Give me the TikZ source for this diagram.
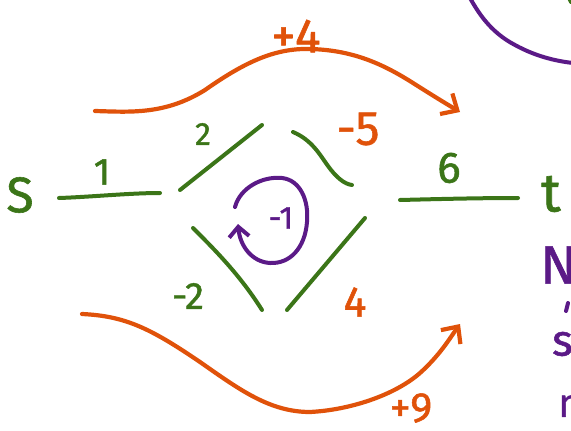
\documentclass[tikz,border=0pt]{standalone}
\usepackage{fontspec}
\setmainfont{Fira Sans}[FakeBold=1.2]
\usetikzlibrary{arrows.meta}
\definecolor{grn}{HTML}{3B7518}
\definecolor{org}{HTML}{E0520A}
\definecolor{prp}{HTML}{5B1A87}
\begin{document}
\begin{tikzpicture}[x=1pt,y=-1pt,line cap=round,line join=round,
  gline/.style={draw=grn,line width=4pt},
  oline/.style={draw=org,line width=4.2pt},
  pline/.style={draw=prp,line width=4pt},
  barb/.style={-{Straight Barb[length=13pt,width=24pt,line width=4.2pt]}},
  pbarb/.style={-{Straight Barb[length=10pt,width=20pt,line width=4pt]}},
  lab/.style={inner sep=0pt,anchor=center},
  glab/.style={lab,text=grn},
  olab/.style={lab,text=org},
  plab/.style={lab,text=prp},
  fs/.style={font=\fontsize{#1}{#1}\selectfont}]
\useasboundingbox (0,0) rectangle (571,431);

% labels
\node[glab,fs=50] (s) at (20,195) {S};
\node[glab,fs=54] (t) at (551,194) {t};
\node[glab,fs=38] (l1) at (102,172) {1};
\node[glab,fs=32] (l2) at (203,134) {2};
\node[olab,fs=48] (l5) at (358,129) {-5};
\node[glab,fs=38] (lm2) at (188,296) {-2};
\node[olab,fs=43] (l4) at (355,302) {4};
\node[glab,fs=44] (l6) at (449,168) {6};
\node[olab,fs=48] (lp4) at (296,36) {+4};
\node[olab,fs=42] (lp9) at (411,408) {+9};
\node[plab,fs=32] (lm1) at (281,218) {-1};
\node[plab,fs=54,anchor=west] (nn) at (540,265) {N};
\node[plab,fs=44,anchor=west] (ns) at (552,344) {s};
\node[plab,fs=40,anchor=west] (nm) at (558,406) {n};

% coordinates
\coordinate (e1a) at (59,198);  \coordinate (e1b) at (160,193);
\coordinate (e2a) at (180,190); \coordinate (e2b) at (262,125);
\coordinate (e5a) at (293,132); \coordinate (e5b) at (352,185);
\coordinate (em2a) at (193,228); \coordinate (em2b) at (262,310);
\coordinate (e4a) at (287,310); \coordinate (e4b) at (365,218);
\coordinate (e6a) at (400,200); \coordinate (e6b) at (518,198);

% green edges
\draw[gline] (e1a) .. controls (90,197) and (130,193) .. (e1b);
\draw[gline] (e2a) -- (e2b);
\draw[gline] (e5a) .. controls (312,140) and (320,155) .. (328,166) .. controls (336,177) and (344,184) .. (e5b);
\draw[gline] (em2a) .. controls (215,250) and (240,275) .. (em2b);
\draw[gline] (e4a) -- (e4b);
\draw[gline] (e6a) .. controls (440,199) and (480,198) .. (e6b);
\draw[gline] (569,-2) -- (571,2);

% orange curves
\coordinate (p4a) at (95,111); \coordinate (p4b) at (460,112);
\draw[oline,barb] (p4a) .. controls (130,112) and (165,115) .. (205,90)
  .. controls (245,62) and (275,48) .. (310,49)
  .. controls (350,50) and (380,62) .. (413,83)
  .. controls (435,97) and (450,106) .. (p4b);
\coordinate (p9a) at (82,314); \coordinate (p9b) at (460,324);
\draw[oline,barb] (p9a) .. controls (125,316) and (150,328) .. (200,362)
  .. controls (240,390) and (270,412) .. (310,412)
  .. controls (350,410) and (395,395) .. (420,373)
  .. controls (440,355) and (450,338) .. (p9b);

% purple loop
\coordinate (ca) at (235,207); \coordinate (cb) at (238,224);
\draw[pline,pbarb] (ca) .. controls (240,188) and (262,176) .. (282,178)
  .. controls (300,180) and (309,200) .. (307,222)
  .. controls (305,248) and (290,264) .. (270,263)
  .. controls (252,262) and (240,246) .. (cb);

% purple top-right curve and marks
\draw[pline] (470,-2) .. controls (478,12) and (490,32) .. (515,45) .. controls (535,56) and (555,61) .. (573,63);
\draw[pline] (568,303) -- (566,311);
\end{tikzpicture}
\end{document}
